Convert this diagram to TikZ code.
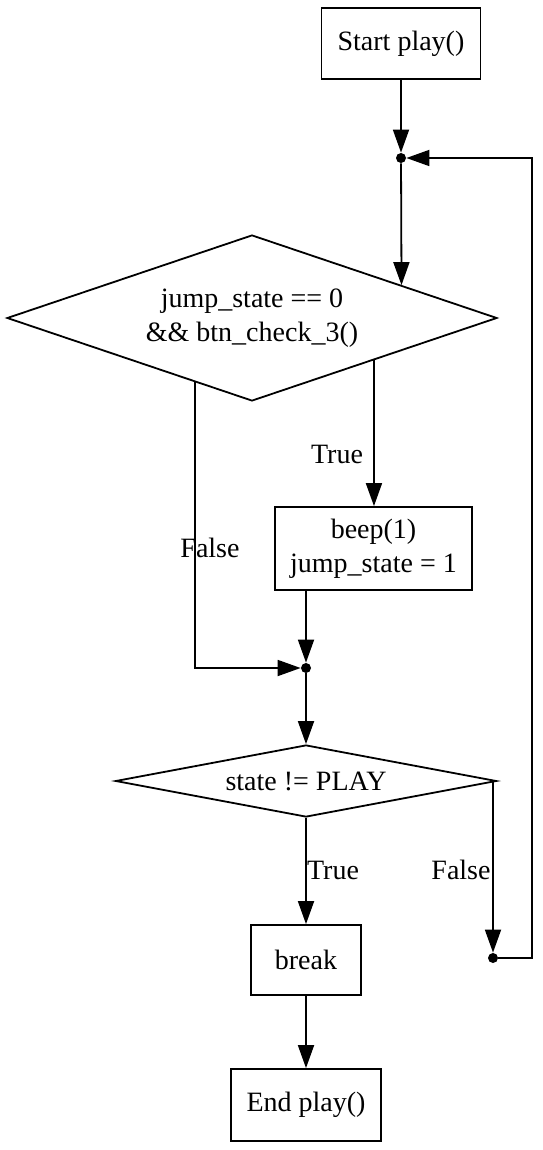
\documentclass[tikz,border=0pt]{standalone}
\usepackage{fontspec}
\setmainfont{Liberation Serif}
\usetikzlibrary{shapes.geometric,arrows.meta,calc}

\tikzset{
  box/.style={draw,line width=0.9pt,rectangle,align=center,inner sep=0pt},
  cond/.style={draw,line width=0.9pt,diamond,align=center,inner sep=0pt},
  dot/.style={circle,fill,inner sep=0pt,minimum size=5pt},
  arr/.style={line width=0.9pt,-{Triangle[length=11.5pt,width=8pt]}},
  lbl/.style={inner sep=0pt}
}

\begin{document}
\begin{tikzpicture}[x=0.5pt,y=-0.5pt,font=\fontsize{14}{17}\selectfont]
\useasboundingbox (0,0) rectangle (542,1150);
\node[box,minimum width=79.5pt,minimum height=35.5pt] (start) at (401,43.5) {Start play()};
\node[dot] (j1) at (401,158) {};
\node[cond,minimum width=245pt,minimum height=83pt,aspect=2.95] (d1) at (252,318) {jump\_state == 0\\\&\& btn\_check\_3()};
\node[box,minimum width=98.5pt,minimum height=41.5pt] (beep) at (373.5,548.5) {beep(1)\\jump\_state = 1};
\node[dot] (j2) at (306,668) {};
\node[cond,minimum width=190.5pt,minimum height=36pt,aspect=5.3] (d2) at (306,781) {state != PLAY};
\node[box,minimum width=55pt,minimum height=35pt] (brk) at (306,960) {break};
\node[dot] (j3) at (493,958) {};
\node[box,minimum width=75pt,minimum height=36pt] (end) at (306,1105) {End play()};

\coordinate (d1in) at ($(d1.north)!0.608!(d1.east)$);
\coordinate (d1t) at ($(d1.south)!0.496!(d1.east)$);
\coordinate (d1f) at ($(d1.west)!0.767!(d1.south)$);
\coordinate (loop) at (532,158);

\draw[arr] (start) -- (j1);
\draw[arr] (j1) -- (d1in);
\draw[arr] (d1t) -- (d1t |- beep.north);
\draw[arr] (d1f) |- (j2);
\draw[arr] (j2 |- beep.south) -- (j2);
\draw[arr] (j2) -- (d2);
\draw[arr] (d2) -- (brk);
\draw[arr] (d2.east -| j3) -- (j3);
\draw[arr] (j3) -| (loop) -- (j1);
\draw[arr] (brk) -- (end);

\node[lbl] (t1) at (337,454) {True};
\node[lbl] (f1) at (210,548) {False};
\node[lbl] (t2) at (333,870) {True};
\node[lbl] (f2) at (461,870) {False};
\end{tikzpicture}
\end{document}
